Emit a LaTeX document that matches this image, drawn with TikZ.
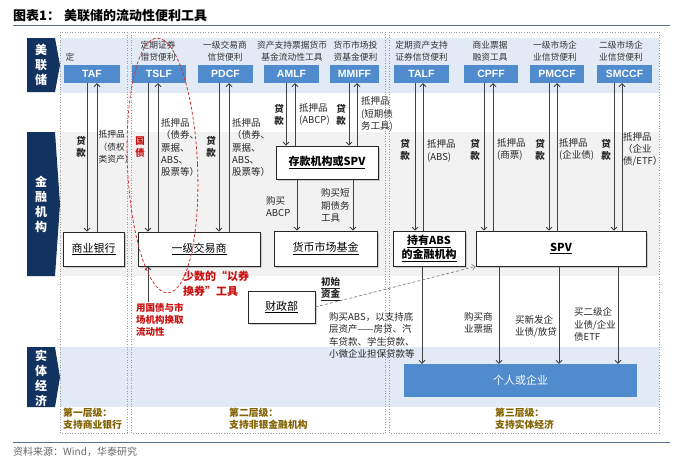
\documentclass[tikz,border=0pt]{standalone}
\usepackage{fontspec}
\setmainfont{Noto Sans CJK SC}
\newfontfamily\latf{Liberation Sans}
\usetikzlibrary{arrows.meta,shadows}
\definecolor{boxblue}{RGB}{79,139,205}
\definecolor{navy}{RGB}{18,50,96}
\definecolor{bandblue}{RGB}{226,234,245}
\definecolor{bandgray}{RGB}{242,242,242}
\definecolor{goldt}{RGB}{128,96,0}
\definecolor{redt}{RGB}{200,16,16}
\definecolor{linec}{RGB}{64,64,64}
\definecolor{rulec}{RGB}{90,112,140}
\begin{document}
\begin{tikzpicture}[x=1pt,y=-1pt,
  topbox/.style={fill=boxblue, text=white, font=\latf\bfseries\fontsize{10.5}{12}\selectfont, minimum height=18, inner sep=0},
  wbox/.style={draw=black!85, line width=0.8pt, fill=white, drop shadow={shadow xshift=1.5pt, shadow yshift=-1.5pt, opacity=0.35}, font=\fontsize{11}{14}\selectfont, align=center, inner sep=0},
  boldbox/.style={font=\bfseries\fontsize{11}{14}\selectfont},
  toplab/.style={font=\fontsize{8.75}{12}\selectfont, align=center, inner sep=0, text=black!80},
  lab/.style={font=\fontsize{9.5}{12.3}\selectfont, align=left, inner sep=0, anchor=west, text=black!85},
  loan/.style={font=\bfseries\fontsize{9.5}{12}\selectfont, align=center, inner sep=0, text=black!85},
  dnar/.style={draw=linec, line width=0.8pt, -{Straight Barb[length=3pt,width=6pt]}},
  upar/.style={draw=linec, line width=0.8pt, {Straight Barb[length=3pt,width=6pt]}-},
  frame/.style={draw=black!40, dotted, line width=0.6pt},
  chev/.style={font=\bfseries\fontsize{12}{15}\selectfont, text=white, align=center, inner sep=0},
  goldlab/.style={lab, text=goldt, font=\bfseries\fontsize{9.8}{11.5}\selectfont}
]
\useasboundingbox (0,0) rectangle (690,467);
% title and rules
\node[anchor=west, inner sep=0, font=\bfseries\fontsize{13}{15}\selectfont] (title) at (13,16) {图表1：\hspace{4pt}美联储的流动性便利工具};
\draw[rulec, line width=1pt] (13,25.5) -- (670,25.5);
\draw[rulec, line width=1pt] (13,442) -- (670,442);
\node[anchor=west, inner sep=0, text=black!60, font=\fontsize{10}{12}\selectfont] (src) at (13,452) {资料来源：Wind，华泰研究};
% bands
\fill[bandblue] (60,38) rectangle (659,93);
\fill[bandgray] (60,132) rectangle (659,276);
\fill[bandblue] (60,347) rectangle (659,407);
% frames
\draw[frame] (60,32) rectangle (127,433);
\draw[frame] (131,32) rectangle (385,433);
\draw[frame] (389,32) rectangle (659,433);
% chevrons
\fill[navy] (27,38) -- (55,38) -- (60,65) -- (55,92) -- (27,92) -- cycle;
\fill[navy] (27,132) -- (55,132) -- (60,204) -- (55,276) -- (27,276) -- cycle;
\fill[navy] (27,347) -- (55,347) -- (60,377) -- (55,407) -- (27,407) -- cycle;
\node[chev] (fed) at (41,65) {美\\联\\储};
\node[chev] (fin) at (41,204.5) {金\\融\\机\\构};
\node[chev] (real) at (41,378) {实\\体\\经\\济};
% top labels
\node[toplab] (ltaf) at (70,57) {定};
\node[toplab] (ltslf) at (158,51) {定期证券\\借贷便利};
\node[toplab] (lpdcf) at (225,51) {一级交易商\\信贷便利};
\node[toplab] (lamlf) at (292,51) {资产支持票据货币\\基金流动性工具};
\node[toplab] (lmmiff) at (355.5,51) {货币市场投\\资基金便利};
\node[toplab] (ltalf) at (421.5,51) {定期资产支持\\证券信贷便利};
\node[toplab] (lcpff) at (490,51) {商业票据\\融资工具};
\node[toplab] (lpmccf) at (555,51) {一级市场企\\业信贷便利};
\node[toplab] (lsmccf) at (621,51) {二级市场企\\业信贷便利};
% top boxes
\node[topbox, minimum width=56] (taf) at (92,74) {TAF};
\node[topbox, minimum width=54] (tslf) at (159,74) {TSLF};
\node[topbox, minimum width=55] (pdcf) at (225.5,74) {PDCF};
\node[topbox, minimum width=55] (amlf) at (291.5,74) {AMLF};
\node[topbox, minimum width=49] (mmiff) at (354.5,74) {MMIFF};
\node[topbox, minimum width=55] (talf) at (421.5,74) {TALF};
\node[topbox, minimum width=54] (cpff) at (491,74) {CPFF};
\node[topbox, minimum width=54] (pmccf) at (557,74) {PMCCF};
\node[topbox, minimum width=55] (smccf) at (624.5,74) {SMCCF};
% lower boxes
\node[wbox, minimum width=61, minimum height=34] (bank) at (93.5,249) {\underline{商业银行}};
\node[wbox, minimum width=122, minimum height=34] (dealer) at (199,249) {\underline{一级交易商}};
\node[wbox, boldbox, minimum width=102, minimum height=33] (dep) at (327,162.5) {\underline{存款机构或SPV}};
\node[wbox, minimum width=103, minimum height=35] (mmf) at (325.5,248.5) {\underline{货币市场基金}};
\node[wbox, boldbox, minimum width=72, minimum height=35] (absh) at (429,248.5) {\underline{持有ABS}\\\underline{的金融机构}};
\node[wbox, boldbox, minimum width=170, minimum height=35] (spv) at (561,248.5) {\underline{SPV}};
\node[wbox, minimum width=67, minimum height=32] (mof) at (281.5,307) {\underline{财政部}};
\node[fill=boxblue, minimum width=233, minimum height=33, inner sep=0, text=white, font=\fontsize{11}{14}\selectfont] (firm) at (520.5,380.5) {个人或企业};
% x positions
\coordinate (a1) at (87,0);  \coordinate (a2) at (97,0);
\coordinate (b1) at (148,0); \coordinate (b2) at (158,0);
\coordinate (c1) at (219,0); \coordinate (c2) at (229,0);
\coordinate (d1) at (286,0); \coordinate (d2) at (295,0);
\coordinate (e1) at (349,0); \coordinate (e2) at (357,0);
\coordinate (f1) at (415,0); \coordinate (f2) at (423,0);
\coordinate (g1) at (484,0); \coordinate (g2) at (493,0);
\coordinate (h1) at (549,0); \coordinate (h2) at (557,0);
\coordinate (i1) at (614,0); \coordinate (i2) at (622,0);
\coordinate (j1) at (297,0); \coordinate (j2) at (353,0);
\coordinate (k1) at (422,0);
\coordinate (l1) at (499,0); \coordinate (l2) at (559,0); \coordinate (l3) at (618,0);
\coordinate (m1) at (148,302);
% arrows
\draw[dnar] (taf.south -| a1) -- (bank.north -| a1);
\draw[upar] (taf.south -| a2) -- (bank.north -| a2);
\draw[dnar] (tslf.south -| b1) -- (dealer.north -| b1);
\draw[upar] (tslf.south -| b2) -- (dealer.north -| b2);
\draw[dnar] (pdcf.south -| c1) -- (dealer.north -| c1);
\draw[upar] (pdcf.south -| c2) -- (dealer.north -| c2);
\draw[dnar] (amlf.south -| d1) -- (dep.north -| d1);
\draw[upar] (amlf.south -| d2) -- (dep.north -| d2);
\draw[dnar] (mmiff.south -| e1) -- (dep.north -| e1);
\draw[upar] (mmiff.south -| e2) -- (dep.north -| e2);
\draw[dnar] (talf.south -| f1) -- (absh.north -| f1);
\draw[upar] (talf.south -| f2) -- (absh.north -| f2);
\draw[dnar] (cpff.south -| g1) -- (spv.north -| g1);
\draw[upar] (cpff.south -| g2) -- (spv.north -| g2);
\draw[dnar] (pmccf.south -| h1) -- (spv.north -| h1);
\draw[upar] (pmccf.south -| h2) -- (spv.north -| h2);
\draw[dnar] (smccf.south -| i1) -- (spv.north -| i1);
\draw[upar] (smccf.south -| i2) -- (spv.north -| i2);
\draw[dnar] (dep.south -| j1) -- (mmf.north -| j1);
\draw[dnar] (dep.south -| j2) -- (mmf.north -| j2);
\draw[dnar] (absh.south -| k1) -- (firm.north -| k1);
\draw[dnar] (spv.south -| l1) -- (firm.north -| l1);
\draw[dnar] (spv.south -| l2) -- (firm.north -| l2);
\draw[dnar] (spv.south -| l3) -- (firm.north -| l3);
\draw[upar] (dealer.south -| m1) -- (m1);
\draw[draw=black!50, line width=0.7pt, dash pattern=on 3pt off 2pt, -{Straight Barb[length=3pt,width=6pt]}] (mof.east) -- (spv.south west);
% arrow labels
\node[loan] (ln1) at (81,147) {贷\\款};
\node[lab, font=\fontsize{8.7}{12.3}\selectfont] (cl1) at (98.5,147) {抵押品\\（债权\\类资产）};
\node[loan, text=redt] (gz) at (140,147) {国\\债};
\node[lab] (cl2) at (161,147.5) {抵押品\\（债券、\\票据、\\ABS、\\股票等）};
\node[loan] (ln3) at (211,147) {贷\\款};
\node[lab] (cl3) at (232,147.5) {抵押品\\（债券、\\票据、\\ABS、\\股票等）};
\node[loan] (ln4) at (279,115) {贷\\款};
\node[lab] (cl4) at (299,114.5) {抵押品\\(ABCP)};
\node[loan] (ln5) at (341,115) {贷\\款};
\node[lab] (cl5) at (361,114) {抵押品\\(短期债\\务工具)};
\node[loan] (ln6) at (405,150) {贷\\款};
\node[lab] (cl6) at (427,151) {抵押品\\(ABS)};
\node[loan] (ln7) at (475,150) {贷\\款};
\node[lab] (cl7) at (497,149.5) {抵押品\\(商票)};
\node[loan] (ln8) at (540,150) {贷\\款};
\node[lab] (cl8) at (559,149.5) {抵押品\\(企业债)};
\node[loan] (ln9) at (606,150) {贷\\款};
\node[lab] (cl9) at (623,149.5) {抵押品\\（企业\\债/ETF）};
\node[lab] (p1) at (266,206.5) {购买\\ABCP};
\node[lab] (p2) at (321,205.5) {购买短\\期债务\\工具};
\node[lab] (p3) at (329,335.5) {购买ABS，以支持底\\层资产——房贷、汽\\车贷款、学生贷款、\\小微企业担保贷款等};
\node[lab] (p4) at (464,323) {购买商\\业票据};
\node[lab] (p5) at (515,326) {买新发企\\业债/放贷};
\node[lab] (p6) at (574,324.5) {买二级企\\业债/企业\\债ETF};
\node[lab, font=\bfseries\fontsize{9.5}{12}\selectfont] (p7) at (321,289) {\underline{初始}\\\underline{资金}};
% red notes
\node[lab, text=redt, font=\bfseries\fontsize{11}{14.5}\selectfont] (few) at (183,284) {少数的“以券\\换券”工具};
\node[lab, text=redt, font=\bfseries\fontsize{9.5}{12}\selectfont] (swap) at (136,320) {用国债与市\\场机构换取\\流动性};
% footers
\node[goldlab] (t1) at (63,418.5) {第一层级：\\支持商业银行};
\node[goldlab] (t2) at (229,418.5) {第二层级：\\支持非银金融机构};
\node[goldlab] (t3) at (495,418.5) {第三层级：\\支持实体经济};
% red ellipse
\draw[draw=redt!85, line width=0.8pt, dash pattern=on 3pt off 2pt, rotate around={2.5:(162.5,165.5)}] (162.5,165.5) ellipse [x radius=35, y radius=127.5];
\end{tikzpicture}
\end{document}
